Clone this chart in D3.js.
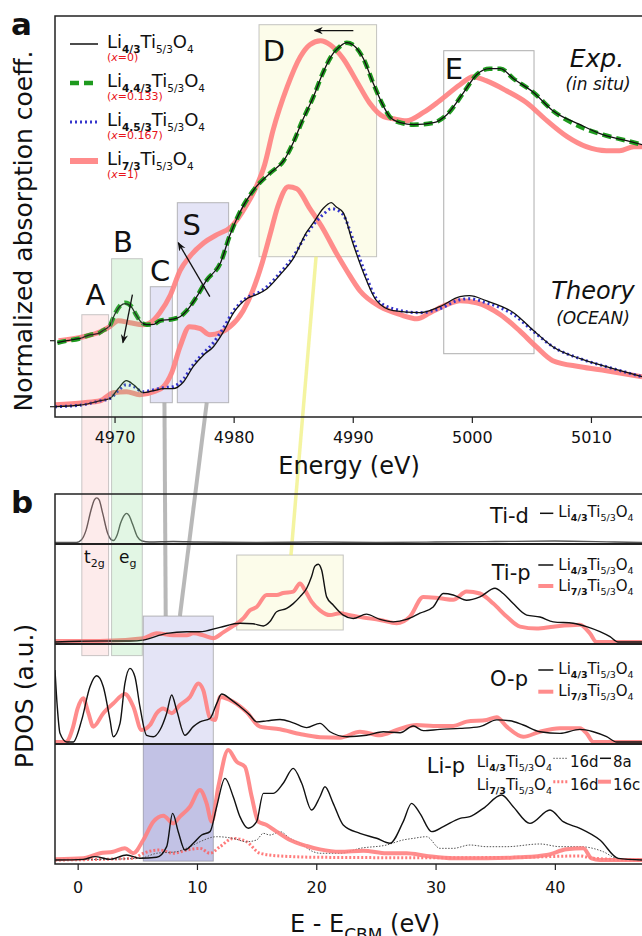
<!DOCTYPE html>
<html>
<head>
<meta charset="utf-8">
<script src="https://cdn.jsdelivr.net/npm/d3@7"></script>
<style>
  body { margin: 0; background: #fff; }
  svg text { font-family: "DejaVu Sans", sans-serif; fill: #111; }
</style>
</head>
<body>
<svg id="chart" width="642" height="936"></svg>
<script>
// ---- panel a : XANES (energy in eV, normalized absorption) ----
const energyTicks = [4970, 4980, 4990, 5000, 5010];
const legendLi = ['4/3', '4.4/3', '4.5/3', '7/3'];
const legendX = ['0', '0.133', '0.167', '1'];

const expLi43 = [[4965.2,-0.01],[4966.0,0.0],[4967.0,0.01],[4968.0,0.03],[4968.6,0.035],[4969.0,0.05],[4969.6,0.075],[4970.0,0.13],[4970.5,0.175],[4970.9,0.185],[4971.4,0.17],[4971.8,0.13],[4972.2,0.095],[4972.7,0.08],[4973.3,0.082],[4973.8,0.1],[4974.9,0.108],[4975.5,0.12],[4976.1,0.153],[4976.9,0.22],[4977.7,0.30],[4978.9,0.39],[4979.7,0.53],[4980.5,0.64],[4981.9,0.77],[4983.1,0.84],[4984.2,0.90],[4985.0,0.99],[4985.7,1.09],[4986.7,1.22],[4987.5,1.34],[4988.4,1.44],[4988.9,1.47],[4989.5,1.49],[4990.0,1.48],[4990.9,1.41],[4991.7,1.29],[4992.6,1.17],[4993.1,1.12],[4994.0,1.09],[4995.1,1.08],[4996.8,1.09],[4997.9,1.13],[4999.3,1.24],[5000.4,1.33],[5001.5,1.36],[5002.4,1.36],[5003.5,1.31],[5005.2,1.24],[5006.8,1.15],[5009.1,1.08],[5011.0,1.03],[5013.0,1.00],[5014.3,0.98]];
const expLi44 = [[4965.2,-0.01],[4966.0,0.0],[4967.0,0.01],[4968.0,0.03],[4968.6,0.035],[4969.0,0.05],[4969.6,0.075],[4970.0,0.13],[4970.5,0.178],[4970.9,0.19],[4971.4,0.172],[4971.8,0.13],[4972.2,0.095],[4972.7,0.08],[4973.3,0.082],[4973.8,0.1],[4974.9,0.108],[4975.5,0.12],[4976.1,0.153],[4976.9,0.22],[4977.7,0.30],[4978.9,0.39],[4979.7,0.53],[4980.5,0.64],[4981.9,0.77],[4983.1,0.84],[4984.2,0.90],[4985.0,0.99],[4985.7,1.09],[4986.7,1.22],[4987.5,1.34],[4988.4,1.44],[4988.9,1.47],[4989.5,1.49],[4990.0,1.48],[4990.9,1.41],[4991.7,1.29],[4992.6,1.17],[4993.1,1.12],[4994.0,1.09],[4995.1,1.08],[4996.8,1.09],[4997.9,1.13],[4999.3,1.24],[5000.4,1.33],[5001.5,1.36],[5002.4,1.36],[5003.5,1.31],[5005.2,1.24],[5006.8,1.15],[5009.1,1.07],[5011.0,1.03],[5013.0,1.00],[5014.3,0.98]];
const expLi73 = [[4965.3,0.0],[4967.4,0.02],[4968.8,0.045],[4969.6,0.07],[4970.3,0.10],[4971.3,0.09],[4972.4,0.08],[4973.0,0.09],[4973.8,0.14],[4974.7,0.23],[4975.5,0.35],[4976.3,0.42],[4977.5,0.49],[4978.6,0.53],[4979.8,0.57],[4981.1,0.68],[4981.9,0.77],[4982.6,0.88],[4983.3,1.05],[4984.5,1.27],[4985.6,1.42],[4986.4,1.48],[4987.3,1.50],[4988.1,1.48],[4989.2,1.41],[4990.4,1.29],[4991.4,1.19],[4992.6,1.12],[4993.4,1.11],[4994.5,1.10],[4995.9,1.14],[4997.3,1.20],[4999.0,1.28],[5000.1,1.32],[5001.2,1.30],[5002.9,1.25],[5004.6,1.19],[5006.3,1.10],[5008.0,1.02],[5009.6,0.97],[5011.3,0.95],[5012.4,0.95],[5013.6,0.97],[5014.3,0.97]];

const theoLi43 = [[4965.0,0.0],[4967.4,0.01],[4968.8,0.03],[4969.6,0.04],[4970.3,0.09],[4971.0,0.13],[4971.6,0.11],[4972.4,0.07],[4973.3,0.08],[4974.1,0.09],[4974.9,0.09],[4975.8,0.125],[4976.6,0.20],[4977.5,0.26],[4978.3,0.30],[4979.1,0.37],[4980.0,0.47],[4981.1,0.54],[4981.9,0.56],[4982.8,0.59],[4983.9,0.66],[4985.0,0.74],[4986.1,0.87],[4986.7,0.92],[4987.5,0.99],[4988.2,1.02],[4988.6,1.00],[4989.2,0.97],[4990.0,0.82],[4990.9,0.67],[4992.0,0.53],[4993.4,0.48],[4995.6,0.47],[4997.3,0.50],[4999.0,0.55],[4999.8,0.555],[5001.2,0.53],[5003.5,0.47],[5005.2,0.38],[5006.8,0.30],[5009.1,0.24],[5011.3,0.20],[5014.3,0.15]];
const theoLi45 = [[4965.0,0.0],[4967.4,0.01],[4968.8,0.03],[4969.6,0.04],[4970.3,0.08],[4971.0,0.11],[4971.6,0.10],[4972.4,0.075],[4973.3,0.085],[4974.1,0.095],[4974.9,0.10],[4975.8,0.14],[4976.6,0.21],[4977.5,0.27],[4978.3,0.32],[4979.1,0.39],[4980.0,0.48],[4981.1,0.545],[4981.9,0.565],[4982.8,0.60],[4983.9,0.67],[4985.0,0.75],[4986.1,0.86],[4986.7,0.91],[4987.5,0.96],[4988.2,0.99],[4988.6,0.985],[4989.2,0.96],[4990.0,0.84],[4990.9,0.69],[4992.0,0.54],[4993.4,0.49],[4995.6,0.47],[4997.3,0.49],[4999.0,0.535],[4999.8,0.54],[5001.2,0.52],[5003.5,0.46],[5005.2,0.375],[5006.8,0.30],[5009.1,0.24],[5011.3,0.20],[5014.3,0.15]];
const theoLi73 = [[4965.0,0.01],[4967.4,0.02],[4968.8,0.03],[4969.9,0.07],[4971.0,0.075],[4972.1,0.06],[4973.3,0.075],[4974.1,0.10],[4974.8,0.17],[4975.5,0.30],[4976.3,0.40],[4977.2,0.39],[4978.0,0.36],[4978.9,0.37],[4979.7,0.40],[4980.8,0.48],[4981.6,0.58],[4982.4,0.72],[4983.1,0.87],[4983.7,1.00],[4984.6,1.10],[4985.3,1.09],[4986.4,0.99],[4987.5,0.89],[4988.6,0.77],[4989.5,0.68],[4990.6,0.58],[4992.3,0.50],[4994.0,0.46],[4995.4,0.44],[4996.5,0.47],[4997.9,0.51],[4999.0,0.53],[5000.4,0.52],[5002.4,0.46],[5004.0,0.38],[5005.4,0.30],[5006.8,0.23],[5009.1,0.20],[5011.3,0.18],[5014.3,0.15]];

// ---- panel b : PDOS (E - E_CBM in eV, a.u. per sub-panel) ----
const pdosTicks = [0, 10, 20, 30, 40];

const tidLi43 = [[-1.9,0.0],[-0.1,0.0],[0.3,0.05],[0.7,0.25],[1.1,0.65],[1.4,0.88],[1.6,0.92],[1.8,0.88],[2.1,0.6],[2.5,0.2],[2.8,0.06],[3.0,0.04],[3.3,0.15],[3.6,0.4],[3.9,0.56],[4.1,0.6],[4.3,0.56],[4.6,0.38],[5.0,0.12],[5.4,0.03],[6.0,0.01],[8.0,0.02],[10.0,0.01],[15.0,0.0],[20.0,0.01],[25.0,0.0],[30.0,0.01],[35.0,0.02],[40.0,0.03],[45.0,0.01],[47.3,0.0]];

const tipLi43 = [[-1.9,0.0],[1.87,0.01],[4.38,0.01],[5.5,0.02],[7.46,0.09],[9.14,0.107],[10.25,0.107],[11.93,0.153],[13.6,0.195],[14.7,0.19],[15.56,0.167],[16.1,0.21],[16.68,0.315],[17.52,0.35],[18.07,0.40],[18.63,0.47],[19.2,0.56],[19.6,0.68],[19.89,0.79],[20.17,0.81],[20.45,0.75],[20.87,0.47],[21.42,0.385],[22.26,0.28],[23.1,0.245],[24.2,0.29],[25.34,0.235],[26.45,0.21],[27.58,0.235],[28.69,0.30],[29.8,0.365],[30.64,0.505],[31.48,0.49],[32.6,0.435],[33.72,0.47],[34.98,0.56],[35.67,0.505],[36.51,0.40],[37.64,0.28],[38.75,0.26],[39.87,0.21],[41.54,0.195],[42.66,0.16],[43.78,0.107],[44.62,0.055],[45.3,0.0],[47.3,0.0]];
const tipLi73 = [[-1.9,0.01],[1.87,0.01],[5.5,0.04],[6.62,0.09],[8.01,0.07],[9.14,0.07],[9.69,0.09],[10.53,0.07],[11.37,0.04],[12.2,0.10],[13.04,0.167],[13.88,0.245],[14.44,0.33],[15.0,0.365],[15.84,0.49],[16.68,0.49],[17.23,0.51],[18.07,0.525],[18.63,0.61],[19.05,0.54],[19.6,0.42],[20.31,0.33],[21.15,0.28],[21.99,0.30],[22.82,0.28],[23.94,0.255],[25.34,0.23],[26.74,0.195],[27.85,0.265],[28.97,0.47],[30.37,0.455],[31.48,0.44],[32.6,0.525],[33.72,0.505],[34.84,0.40],[35.96,0.265],[37.08,0.16],[38.47,0.14],[39.87,0.16],[42.1,0.18],[42.94,0.09],[43.5,0.0],[47.3,0.0]];

const opLi43 = [[-1.9,0.75],[-1.71,0.368],[-1.48,0.09],[-0.92,0.0],[-0.37,0.0],[0.34,0.23],[1.03,0.576],[1.59,0.69],[2.15,0.576],[2.71,0.23],[2.98,0.055],[3.55,0.194],[3.96,0.61],[4.38,0.767],[4.8,0.68],[5.22,0.368],[5.78,0.07],[6.34,0.055],[6.9,0.125],[7.46,0.30],[7.88,0.49],[8.3,0.33],[8.99,0.07],[9.69,0.16],[10.25,0.21],[11.09,0.245],[11.65,0.40],[12.07,0.50],[12.77,0.45],[13.6,0.37],[14.44,0.28],[15.0,0.21],[15.84,0.22],[16.96,0.235],[18.07,0.20],[19.2,0.15],[20.31,0.194],[21.15,0.107],[22.55,0.055],[24.22,0.07],[25.62,0.107],[27.02,0.097],[28.13,0.167],[28.97,0.118],[30.37,0.132],[32.05,0.142],[33.72,0.16],[35.12,0.23],[36.24,0.222],[37.35,0.177],[38.75,0.107],[40.43,0.09],[42.1,0.132],[43.22,0.107],[44.34,0.055],[45.18,0.0],[47.3,0.0]];
const opLi73 = [[-1.9,0.0],[-1.0,0.0],[-0.4,0.15],[0.0,0.35],[0.47,0.455],[0.9,0.3],[1.31,0.16],[2.15,0.30],[2.98,0.40],[3.96,0.50],[4.66,0.37],[5.36,0.125],[6.06,0.177],[6.62,0.30],[7.18,0.35],[7.88,0.30],[8.57,0.385],[9.41,0.47],[10.11,0.61],[10.53,0.54],[11.09,0.25],[11.51,0.229],[11.93,0.47],[13.04,0.42],[14.16,0.313],[15.28,0.16],[16.96,0.133],[18.63,0.083],[20.31,0.05],[21.99,0.045],[23.66,0.107],[25.34,0.07],[26.74,0.125],[28.41,0.177],[29.8,0.167],[31.48,0.167],[32.6,0.212],[34.28,0.229],[35.12,0.257],[35.96,0.16],[37.35,0.055],[38.75,0.107],[40.43,0.142],[42.1,0.142],[42.66,0.09],[43.22,0.0],[47.3,0.0]];

const lip8aLi43 = [[-1.9,0.0],[0.47,0.006],[1.45,0.03],[2.71,0.006],[4.1,0.045],[5.22,0.015],[6.62,0.024],[7.46,0.119],[7.96,0.416],[8.43,0.253],[8.99,0.089],[9.69,0.149],[10.39,0.223],[11.09,0.253],[11.65,0.476],[12.35,0.729],[13.04,0.565],[13.6,0.387],[14.3,0.283],[15.0,0.342],[15.56,0.595],[16.4,0.595],[17.23,0.685],[18.07,0.818],[18.78,0.685],[19.61,0.446],[20.31,0.565],[20.73,0.654],[21.42,0.506],[22.26,0.313],[23.66,0.238],[25.06,0.194],[26.18,0.149],[27.29,0.343],[27.99,0.506],[28.69,0.417],[29.67,0.253],[30.65,0.298],[32.05,0.372],[32.88,0.387],[34.0,0.461],[35.54,0.58],[36.51,0.476],[37.91,0.327],[39.59,0.446],[40.7,0.342],[42.1,0.283],[43.78,0.179],[45.31,0.015],[47.3,0.0]];
const lip16dLi43 = [[-1.9,0.0],[5.22,0.015],[6.62,0.06],[8.3,0.074],[9.41,0.119],[10.25,0.163],[11.65,0.208],[13.04,0.193],[14.16,0.163],[15.0,0.179],[15.56,0.238],[16.12,0.223],[16.96,0.253],[17.8,0.193],[18.63,0.149],[19.75,0.074],[20.31,0.06],[21.99,0.06],[23.66,0.104],[25.9,0.134],[27.29,0.179],[28.13,0.193],[29.25,0.208],[30.37,0.104],[31.48,0.104],[32.88,0.134],[34.28,0.119],[35.96,0.119],[38.75,0.143],[40.43,0.119],[42.1,0.119],[44.06,0.074],[45.18,0.015],[47.3,0.0]];
const lip16cLi73 = [[-1.9,0.006],[0.47,0.015],[1.87,0.06],[2.98,0.074],[3.96,0.104],[4.66,0.06],[5.5,0.179],[6.34,0.342],[7.18,0.396],[8.01,0.327],[8.57,0.387],[9.41,0.476],[10.25,0.625],[10.81,0.506],[11.23,0.342],[11.79,0.655],[12.62,0.982],[13.32,0.878],[14.02,0.833],[14.59,0.565],[15.14,0.342],[15.84,0.313],[16.68,0.253],[17.8,0.179],[19.2,0.125],[20.31,0.095],[21.99,0.074],[23.94,0.083],[25.9,0.06],[27.58,0.06],[29.25,0.036],[31.48,0.015],[34.28,0.015],[37.08,0.024],[39.31,0.045],[40.99,0.095],[42.38,0.104],[43.08,0.015],[43.78,0.0],[47.3,0.0]];
const lip16dLi73 = [[-1.9,0.0],[4.66,0.015],[5.5,0.06],[6.9,0.089],[8.01,0.06],[9.14,0.089],[10.25,0.104],[11.09,0.06],[11.93,0.119],[13.04,0.193],[14.16,0.163],[15.28,0.06],[16.96,0.036],[20.31,0.024],[30.0,0.02],[37.08,0.024],[42.1,0.036],[43.22,0.015],[47.3,0.0]];

// ---- colours ----
const pink = '#ff7f7f';
const green = '#1e9a1e';
const blue = '#3535cc';

const svg = d3.select('#chart');
svg.append('rect').attr('width', 642).attr('height', 936).attr('fill', '#fff');

// Scales
const xA = d3.scaleLinear().domain([4965, 5015]).range([55, 650.5]);
const yA = d3.scaleLinear().domain([0, 1]).range([406.7, 206.7]);
const expOffset = 0.33;
const xB = d3.scaleLinear().domain([-1.9, 48]).range([55, 650.3]);
const yTid = d3.scaleLinear().domain([0, 1]).range([542.5, 494]);
const yTip = d3.scaleLinear().domain([0, 1]).range([642, 546]);
const yOp = d3.scaleLinear().domain([0, 1]).range([742, 646]);
const yLip = d3.scaleLinear().domain([0, 1]).range([860, 748]);

const defs = svg.append('defs');
defs.append('clipPath').attr('id', 'clip-a').append('rect')
  .attr('x', 55).attr('y', 16).attr('width', 600).attr('height', 401);
defs.append('clipPath').attr('id', 'clip-b').append('rect')
  .attr('x', 55).attr('y', 494).attr('width', 600).attr('height', 370);
defs.append('marker').attr('id', 'head')
  .attr('viewBox', '0 0 10 10').attr('refX', 9).attr('refY', 5)
  .attr('markerWidth', 9).attr('markerHeight', 9).attr('markerUnits', 'userSpaceOnUse')
  .attr('orient', 'auto')
  .append('path').attr('d', 'M0,1 L10,5 L0,9 L3,5 z').attr('fill', '#111');

// ---- background boxes ----
const back = svg.append('g');
const rectA = (x0, x1, v0, v1, fill, stroke) => back.append('rect')
  .attr('x', xA(x0)).attr('width', xA(x1) - xA(x0))
  .attr('y', yA(v1)).attr('height', yA(v0) - yA(v1))
  .attr('fill', fill).attr('stroke', stroke).attr('stroke-width', 1);

rectA(4973.0, 4974.85, 0.02, 0.60, 'rgba(120,120,210,0.2)', 'rgba(140,140,140,0.6)');
rectA(4975.27, 4979.58, 0.02, 1.02, 'rgba(120,120,210,0.2)', 'rgba(140,140,140,0.6)');
rectA(4982.13, 4992.0, 0.75, 1.91, 'rgba(245,245,170,0.25)', 'rgba(140,140,140,0.5)');
rectA(4997.64, 5005.22, 0.265, 1.78, 'none', 'rgba(140,140,140,0.7)');

// panel b boxes
back.append('rect')
  .attr('x', xB(5.5)).attr('width', xB(11.37) - xB(5.5))
  .attr('y', yTip(0.27)).attr('height', yLip(-0.01) - yTip(0.27))
  .attr('fill', 'rgba(120,120,210,0.2)').attr('stroke', 'rgba(140,140,140,0.6)');
back.append('rect')
  .attr('x', xB(5.5)).attr('width', xB(11.37) - xB(5.5))
  .attr('y', yOp(-0.02)).attr('height', yLip(-0.01) - yOp(-0.02))
  .attr('fill', 'rgba(90,90,180,0.25)');
back.append('rect')
  .attr('x', xB(13.33)).attr('width', xB(22.26) - xB(13.33))
  .attr('y', yTip(0.906)).attr('height', yTip(0.125) - yTip(0.906))
  .attr('fill', 'rgba(245,245,170,0.25)').attr('stroke', 'rgba(140,140,140,0.5)');

// connectors between the panels
const connect = (e0, v0, e1, v1, color, w) => back.append('line')
  .attr('x1', xA(e0)).attr('y1', yA(v0))
  .attr('x2', xB(e1)).attr('y2', yTip(v1))
  .attr('stroke', color).attr('stroke-width', w);
connect(4974.19, 0.02, 7.38, 0.27, 'rgba(160,160,160,0.75)', 4);
connect(4977.74, 0.02, 8.57, 0.27, 'rgba(160,160,160,0.75)', 4);
connect(4986.92, 0.75, 17.88, 0.906, 'rgba(240,240,120,0.7)', 3.5);

// ---- curves panel a ----
const gA = svg.append('g').attr('clip-path', 'url(#clip-a)');
const lineA = off => d3.line()
  .x(d => xA(d[0])).y(d => yA(d[1] + off))
  .curve(d3.curveMonotoneX);

const drawA = (data, off, color, width, dash, opacity) => gA.append('path')
  .datum(data).attr('d', lineA(off))
  .attr('fill', 'none').attr('stroke', color).attr('stroke-width', width)
  .attr('stroke-dasharray', dash).attr('stroke-opacity', opacity)
  .attr('stroke-linejoin', 'round');

drawA(theoLi73, 0, pink, 5, null, 0.9);
drawA(theoLi45, 0, blue, 3, '2,3', 1);
drawA(theoLi43, 0, '#111', 1.3, null, 1);
drawA(expLi73, expOffset, pink, 5, null, 0.9);
drawA(expLi44, expOffset, green, 4.5, '9,5', 1);
drawA(expLi43, expOffset, '#111', 1.3, null, 1);

// ---- curves panel b ----
const gB = svg.append('g').attr('clip-path', 'url(#clip-b)');
const drawB = (data, ys, color, width, dash, opacity) => gB.append('path')
  .datum(data)
  .attr('d', d3.line().x(d => xB(d[0])).y(d => ys(d[1])).curve(d3.curveMonotoneX))
  .attr('fill', 'none').attr('stroke', color).attr('stroke-width', width)
  .attr('stroke-dasharray', dash).attr('stroke-opacity', opacity)
  .attr('stroke-linejoin', 'round');

drawB(tidLi43, yTid, '#555', 1.4, null, 1);
drawB(tipLi73, yTip, pink, 4, null, 0.9);
drawB(tipLi43, yTip, '#111', 1.4, null, 1);
drawB(opLi73, yOp, pink, 4, null, 0.9);
drawB(opLi43, yOp, '#111', 1.4, null, 1);
drawB(lip16dLi73, yLip, '#ff5a5a', 3, '2,2', 0.8);
drawB(lip16dLi43, yLip, '#555', 1, '1.5,1.5', 1);
drawB(lip16cLi73, yLip, pink, 4, null, 0.9);
drawB(lip8aLi43, yLip, '#111', 1.4, null, 1);

// ---- long A / B boxes crossing both panels ----
const front = svg.append('g');
[[4967.25, 4969.5, 0.46, 'rgba(240,120,120,0.15)'],
 [4969.75, 4972.33, 0.74, 'rgba(110,210,120,0.2)']].forEach(b => {
  front.append('rect')
    .attr('x', xA(b[0])).attr('width', xA(b[1]) - xA(b[0]))
    .attr('y', yA(b[2])).attr('height', yOp(0.9) - yA(b[2]))
    .attr('fill', b[3]).attr('stroke', 'rgba(150,150,150,0.5)');
});

// ---- frames and axes ----
const frame = svg.append('g').attr('stroke', '#222').attr('fill', 'none');
frame.append('path').attr('d', `M642,16H55V417H642`).attr('stroke-width', 1.5);
frame.append('path').attr('d', `M642,494H55V864H642`).attr('stroke-width', 1.5);
[544, 644, 744].forEach(y => frame.append('line')
  .attr('x1', 55).attr('x2', 642).attr('y1', y).attr('y2', y).attr('stroke-width', 2));

const axA = svg.append('g').attr('transform', 'translate(0,417)')
  .call(d3.axisBottom(xA).tickValues(energyTicks).tickSize(6).tickFormat(d3.format('d')));
axA.select('.domain').remove();
axA.selectAll('text').attr('y', 26).attr('dy', 0);

const axB = svg.append('g').attr('transform', 'translate(0,864)')
  .call(d3.axisBottom(xB).tickValues(pdosTicks).tickSize(6).tickFormat(d3.format('d')));
axB.select('.domain').remove();
axB.selectAll('text').attr('y', 29).attr('dy', 0);

[axA, axB].forEach(ax => {
  ax.selectAll('line').attr('stroke', '#222').attr('stroke-width', 1.2);
  ax.selectAll('text').style('font-size', '16px').style('font-family', '"DejaVu Sans", sans-serif').attr('fill', '#222');
});

// y ticks of panel a at the two baselines
[0, expOffset].forEach(v => svg.append('line')
  .attr('x1', 50).attr('x2', 55).attr('y1', yA(v)).attr('y2', yA(v))
  .attr('stroke', '#222').attr('stroke-width', 1.2));

// ---- axis labels ----
svg.append('text').attr('x', 349).attr('y', 474).attr('text-anchor', 'middle')
  .style('font-size', '24px').text('Energy (eV)');
svg.append('text').attr('transform', 'translate(32,231) rotate(-90)')
  .attr('text-anchor', 'middle').style('font-size', '25px')
  .text('Normalized absorption coeff.');
svg.append('text').attr('transform', 'translate(33,696) rotate(-90)')
  .attr('text-anchor', 'middle').style('font-size', '25px').text('PDOS (a.u.)');

const xlabB = svg.append('text').attr('x', 290).attr('y', 931.5).style('font-size', '24px');
xlabB.append('tspan').text('E - E');
xlabB.append('tspan').attr('dy', 9).style('font-size', '17px').text('CBM');
xlabB.append('tspan').attr('dy', -9).text(' (eV)');

svg.append('text').attr('x', 11).attr('y', 35).style('font-size', '31px')
  .style('font-weight', 'bold').text('a');
svg.append('text').attr('x', 11).attr('y', 513).style('font-size', '31px')
  .style('font-weight', 'bold').text('b');

// ---- region labels ----
[['A', 4968.4, 0.51], ['B', 4970.71, 0.775], ['C', 4973.82, 0.63],
 ['S', 4976.48, 0.86], ['D', 4983.39, 1.73], ['E', 4998.5, 1.64]].forEach(l => {
  svg.append('text').attr('x', xA(l[1])).attr('y', yA(l[2]))
    .attr('text-anchor', 'middle').style('font-size', '29px').text(l[0]);
});

// arrows
[[4971.5, 0.56, 4970.7, 0.32], [4978.0, 0.55, 4975.35, 0.82],
 [4990.05, 1.88, 4986.8, 1.88]].forEach(a => {
  svg.append('line')
    .attr('x1', xA(a[0])).attr('y1', yA(a[1]))
    .attr('x2', xA(a[2])).attr('y2', yA(a[3]))
    .attr('stroke', '#111').attr('stroke-width', 1.3)
    .attr('marker-end', 'url(#head)');
});

// Exp / Theory tags
const tag = (x, y, size, txt) => svg.append('text').attr('x', x).attr('y', y)
  .attr('text-anchor', 'middle').style('font-size', size + 'px')
  .style('font-style', 'italic').text(txt);
tag(597, 66.7, 25, 'Exp.');
tag(598, 89.5, 17, '(in situ)');
tag(593, 299, 24, 'Theory');
tag(593, 324, 17, '(OCEAN)');

// t2g / eg
const orb = (x, main, sub) => {
  const t = svg.append('text').attr('x', x).attr('y', 563).style('font-size', '17px');
  t.append('tspan').text(main);
  t.append('tspan').attr('dy', 4).style('font-size', '11px').text(sub);
};
orb(84, 't', '2g');
orb(119, 'e', 'g');

// ---- formula helper ----
function formula(x, y, liSub, size, subSize) {
  const t = svg.append('text').attr('x', x).attr('y', y).style('font-size', size + 'px');
  const sh = size * 0.28;
  t.append('tspan').text('Li');
  t.append('tspan').attr('dy', sh).style('font-size', subSize + 'px').style('font-weight', 'bold').text(liSub);
  t.append('tspan').attr('dy', -sh).text('Ti');
  t.append('tspan').attr('dy', sh).style('font-size', subSize + 'px').text('5/3');
  t.append('tspan').attr('dy', -sh).text('O');
  t.append('tspan').attr('dy', sh).style('font-size', subSize + 'px').text('4');
  return t;
}
const sample = (x0, x1, y, color, width, dash, opacity) => svg.append('line')
  .attr('x1', x0).attr('x2', x1).attr('y1', y).attr('y2', y)
  .attr('stroke', color).attr('stroke-width', width)
  .attr('stroke-dasharray', dash).attr('stroke-opacity', opacity);

// panel a legend
const legStyles = [['#111', 1.5, null, 1], [green, 4.5, '9,5', 1], [blue, 3, '2,3', 1], [pink, 6, null, 0.9]];
legendLi.forEach((li, i) => {
  const y = 44 + i * 39;
  const s = legStyles[i];
  sample(70, 98, y, s[0], s[1], s[2], s[3]);
  formula(107, y + 4, li, 18, 10.5);
  const r = svg.append('text').attr('x', 107).attr('y', y + 16.5)
    .style('font-size', '11px').style('fill', '#e8141a');
  r.append('tspan').text('(');
  r.append('tspan').style('font-style', 'italic').text('x');
  r.append('tspan').text('=' + legendX[i] + ')');
});

// panel b legends
const head = (x, y, txt) => svg.append('text').attr('x', x).attr('y', y)
  .style('font-size', '21px').text(txt);
head(490, 523.3, 'Ti-d');
sample(540, 553.3, 513.3, '#111', 1.5, null, 1);
formula(558.3, 517, legendLi[0], 15, 9.5);

head(491.7, 580, 'Ti-p');
sample(538.3, 553.3, 565, '#111', 1.5, null, 1);
formula(558.3, 569.5, legendLi[0], 15, 9.5);
sample(538.3, 553.3, 586, pink, 4, null, 0.9);
formula(558.3, 591, legendLi[3], 15, 9.5);

head(490, 686, 'O-p');
sample(538.3, 553.3, 670, '#111', 1.5, null, 1);
formula(558.3, 674, legendLi[0], 15, 9.5);
sample(538.3, 553.3, 691.7, pink, 4, null, 0.9);
formula(558.3, 696, legendLi[3], 15, 9.5);

head(426.7, 773.3, 'Li-p');
formula(476.7, 766.7, legendLi[0], 15, 9.5);
sample(553.3, 568.3, 758.3, '#555', 1, '1.5,1.5', 1);
svg.append('text').attr('x', 570).attr('y', 766.7).style('font-size', '15px').text('16d');
sample(600, 611, 758.3, '#111', 1.5, null, 1);
svg.append('text').attr('x', 613).attr('y', 766.7).style('font-size', '15px').text('8a');
formula(476.7, 790, legendLi[3], 15, 9.5);
sample(553.3, 568.3, 781.7, '#ff5a5a', 3, '2,2', 0.8);
svg.append('text').attr('x', 570).attr('y', 790).style('font-size', '15px').text('16d');
sample(598, 611, 781.7, pink, 4, null, 0.9);
svg.append('text').attr('x', 613).attr('y', 790).style('font-size', '15px').text('16c');
</script>
</body>
</html>
